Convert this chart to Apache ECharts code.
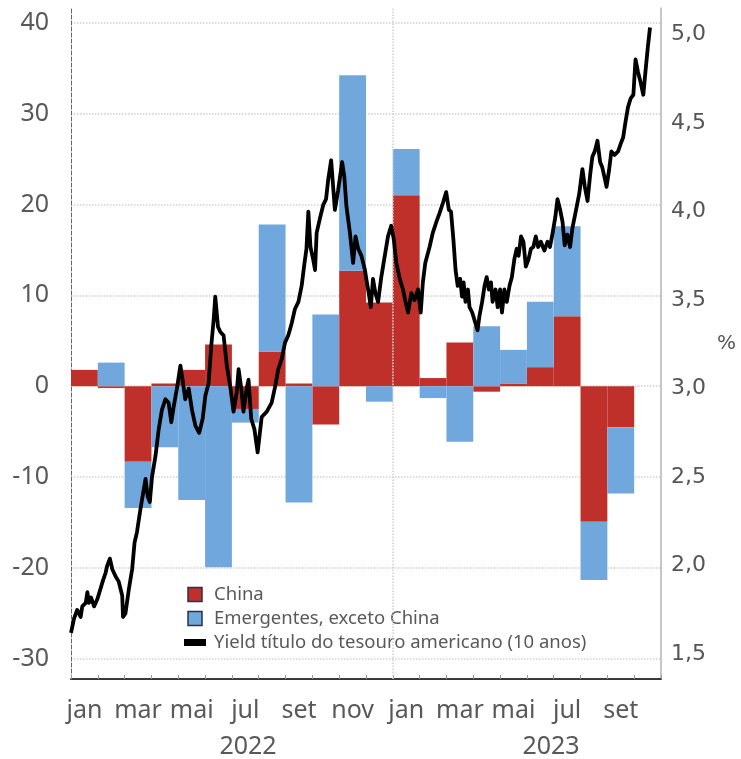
<!DOCTYPE html>
<html>
<head>
<meta charset="utf-8">
<script src="https://cdn.jsdelivr.net/npm/echarts@6/dist/echarts.min.js"></script>
<style>
  html, body { margin: 0; padding: 0; background: #fff; }
  #chart { width: 741px; height: 759px; }
</style>
</head>
<body>
<div id="chart"></div>
<script>
// meses (jan/2022 .. out/2023)
const months = ['jan 22', 'fev 22', 'mar 22', 'abr 22', 'mai 22', 'jun 22', 'jul 22', 'ago 22', 'set 22', 'out 22', 'nov 22', 'dez 22',
  'jan 23', 'fev 23', 'mar 23', 'abr 23', 'mai 23', 'jun 23', 'jul 23', 'ago 23', 'set 23', 'out 23']
// fluxos (eixo esquerdo)
const china = [1.8, -0.2, -8.3, 0.3, 1.8, 4.6, -2.5, 3.8, 0.3, -4.2, 12.7, 9.2, 21.0, 0.9, 4.8, -0.6, 0.3, 2.1, 7.7, -14.9, -4.5, null]
const emergentes = [0, 2.6, -5.1, -6.7, -12.5, -19.9, -1.5, 14.0, -12.8, 7.9, 21.5, -1.7, 5.1, -1.3, -6.1, 6.6, 3.7, 7.2, 9.9, -6.4, -7.3, null]
// yield do tesouro 10 anos (eixo direito), x em meses desde jan/2022
const yieldMonth = [0, 0.11, 0.23, 0.36, 0.42, 0.55, 0.61, 0.67, 0.75, 0.86, 0.98, 1.10, 1.20, 1.29, 1.35, 1.45, 1.54, 1.66, 1.78, 1.91,
  1.94, 2.03, 2.16, 2.28, 2.37, 2.46, 2.59, 2.69, 2.78, 2.86, 2.94, 3.02, 3.15, 3.27, 3.39, 3.52, 3.64, 3.74, 3.83, 3.95,
  4.08, 4.16, 4.26, 4.39, 4.51, 4.64, 4.78, 4.91, 5.01, 5.13, 5.23, 5.32, 5.38, 5.48, 5.57, 5.69, 5.81, 5.94, 6.06, 6.18,
  6.25, 6.35, 6.43, 6.55, 6.62, 6.72, 6.84, 6.96, 7.11, 7.30, 7.48, 7.61, 7.73, 7.86, 7.98, 8.10, 8.23, 8.35, 8.48, 8.60,
  8.69, 8.78, 8.85, 8.93, 9.03, 9.10, 9.16, 9.28, 9.41, 9.51, 9.59, 9.70, 9.84, 9.96, 10.11, 10.19, 10.27, 10.40, 10.52, 10.61,
  10.71, 10.83, 10.96, 11.01, 11.10, 11.18, 11.26, 11.35, 11.45, 11.57, 11.70, 11.82, 11.94, 12.04, 12.13, 12.26, 12.38, 12.46, 12.57, 12.69,
  12.81, 12.94, 13.04, 13.12, 13.21, 13.37, 13.49, 13.62, 13.74, 13.87, 13.99, 14.09, 14.17, 14.26, 14.34, 14.42, 14.51, 14.58, 14.64, 14.71,
  14.80, 14.86, 14.96, 15.08, 15.16, 15.23, 15.33, 15.42, 15.50, 15.58, 15.66, 15.72, 15.83, 15.91, 16.00, 16.07, 16.16, 16.25, 16.35, 16.44,
  16.53, 16.62, 16.69, 16.78, 16.87, 16.96, 17.06, 17.15, 17.24, 17.33, 17.42, 17.52, 17.65, 17.77, 17.86, 17.96, 18.06, 18.14, 18.24, 18.33,
  18.41, 18.51, 18.61, 18.70, 18.82, 18.95, 19.07, 19.16, 19.26, 19.36, 19.44, 19.53, 19.63, 19.73, 19.81, 19.90, 19.97, 20.06, 20.15, 20.27,
  20.40, 20.49, 20.59, 20.68, 20.77, 20.87, 20.97, 21.05, 21.14, 21.24, 21.34, 21.42, 21.51, 21.59]
const yieldPct = [1.62, 1.70, 1.75, 1.71, 1.77, 1.79, 1.85, 1.79, 1.82, 1.77, 1.81, 1.87, 1.92, 1.96, 2.00, 2.04, 1.98, 1.94, 1.91, 1.83,
  1.71, 1.73, 1.87, 1.98, 2.13, 2.19, 2.32, 2.41, 2.49, 2.39, 2.36, 2.50, 2.62, 2.77, 2.88, 2.94, 2.92, 2.81, 2.90, 3.00,
  3.13, 3.05, 2.94, 3.00, 2.88, 2.79, 2.75, 2.83, 2.96, 3.03, 3.24, 3.39, 3.52, 3.35, 3.32, 3.30, 3.13, 3.01, 2.87, 2.98,
  3.11, 3.00, 2.87, 3.00, 3.05, 2.83, 2.77, 2.64, 2.84, 2.87, 2.92, 3.01, 3.11, 3.17, 3.26, 3.30, 3.37, 3.45, 3.49, 3.58,
  3.69, 3.79, 4.00, 3.80, 3.73, 3.67, 3.88, 3.96, 4.04, 4.07, 4.18, 4.29, 4.01, 4.12, 4.28, 4.20, 4.03, 3.88, 3.71, 3.86,
  3.79, 3.75, 3.67, 3.62, 3.54, 3.46, 3.62, 3.54, 3.49, 3.63, 3.75, 3.86, 3.92, 3.84, 3.71, 3.62, 3.56, 3.50, 3.43, 3.54,
  3.50, 3.56, 3.43, 3.60, 3.71, 3.80, 3.88, 3.94, 3.99, 4.05, 4.11, 4.01, 4.00, 3.84, 3.67, 3.58, 3.62, 3.52, 3.60, 3.49,
  3.56, 3.46, 3.43, 3.37, 3.33, 3.41, 3.49, 3.58, 3.63, 3.56, 3.60, 3.49, 3.56, 3.46, 3.56, 3.43, 3.56, 3.49, 3.58, 3.63,
  3.73, 3.79, 3.75, 3.86, 3.83, 3.69, 3.73, 3.79, 3.80, 3.86, 3.80, 3.83, 3.78, 3.83, 3.80, 3.88, 3.97, 4.07, 4.01, 3.94,
  3.81, 3.87, 3.80, 3.91, 4.00, 4.10, 4.24, 4.14, 4.06, 4.21, 4.31, 4.34, 4.40, 4.28, 4.25, 4.19, 4.14, 4.23, 4.34, 4.32,
  4.34, 4.38, 4.42, 4.51, 4.59, 4.64, 4.66, 4.86, 4.79, 4.73, 4.66, 4.79, 4.93, 5.04]
// rótulos de ano (posição em meses)
const yearTicks = [6.6, 17.9]
const yearLabels = ['2022', '2023']

const chart = echarts.init(document.getElementById('chart'))

const labelColor = '#595959'
const fontFamily = '"Noto Sans", sans-serif'

const option = {
  animation: false,
  grid: { left: 71, right: 80, top: 8, bottom: 80, outerBoundsMode: 'none', containLabel: false },
  legend: {
    orient: 'vertical',
    left: 179,
    top: 580,
    itemWidth: 22,
    itemHeight: 14,
    itemGap: 5,
    textStyle: { fontFamily, fontSize: 18.5, color: labelColor, padding: [0, 0, 0, 3] },
    data: [
      { name: 'China', icon: 'path://M0,0H10V10H0Z', itemStyle: { borderColor: '#27324a', borderWidth: 1.5 } },
      { name: 'Emergentes, exceto China', icon: 'path://M0,0H10V10H0Z', itemStyle: { borderColor: '#27324a', borderWidth: 1.5 } },
      { name: 'Yield título do tesouro americano (10 anos)', icon: 'path://M0,0H22V7H0Z' }
    ]
  },
  xAxis: [
    {
      type: 'category',
      data: months,
      position: 'bottom',
      axisLine: { onZero: false, lineStyle: { color: '#3a3a3a', width: 2 } },
      axisTick: { show: true, inside: true, length: 4, interval: 0, lineStyle: { color: '#999' } },
      axisLabel: {
        interval: 1,
        margin: 19,
        fontFamily,
        fontSize: 25,
        color: labelColor,
        formatter: (v) => v.split(' ')[0]
      },
      splitLine: { show: false }
    },
    {
      type: 'value',
      min: 0,
      max: 22,
      position: 'bottom',
      axisLine: { show: false, onZero: false },
      axisTick: { show: false },
      splitLine: { show: false },
      axisLabel: {
        customValues: yearTicks,
        margin: 55,
        fontFamily,
        fontSize: 25,
        color: labelColor,
        formatter: (v) => yearLabels[yearTicks.indexOf(v)]
      }
    }
  ],
  yAxis: [
    {
      type: 'value',
      min: -32.2,
      max: 41.6,
      splitNumber: 7,
      position: 'left',
      axisLine: { show: true, lineStyle: { color: '#666', type: 'dashed', width: 1 } },
      axisTick: { show: false },
      axisLabel: {
        showMinLabel: false,
        showMaxLabel: false,
        margin: 22,
        fontFamily,
        fontSize: 25,
        color: labelColor
      },
      splitLine: {
        show: true,
        showMinLine: false,
        showMaxLine: false,
        lineStyle: { color: '#cfcfcf', type: 'dotted', width: 1.5 }
      }
    },
    {
      type: 'value',
      min: 1.36,
      max: 5.15,
      splitNumber: 7,
      position: 'right',
      name: '%',
      nameLocation: 'middle',
      nameRotate: 0,
      nameGap: 56,
      nameTextStyle: { fontFamily: '"DejaVu Sans"', fontSize: 20, color: '#555', align: 'left' },
      axisLine: { show: true, lineStyle: { color: '#b5b5b5', width: 1.5 } },
      axisTick: { show: false },
      axisLabel: {
        showMinLabel: false,
        showMaxLabel: false,
        margin: 10,
        fontFamily: '"DejaVu Sans"',
        fontSize: 22,
        color: '#555',
        formatter: (v) => v.toFixed(1).replace('.', ',')
      },
      splitLine: { show: false }
    }
  ],
  series: [
    {
      name: 'China',
      type: 'bar',
      stack: 'fluxos',
      xAxisIndex: 0,
      yAxisIndex: 0,
      barCategoryGap: '0%',
      itemStyle: { color: '#c0302a' },
      data: china
    },
    {
      name: 'Emergentes, exceto China',
      type: 'bar',
      stack: 'fluxos',
      xAxisIndex: 0,
      yAxisIndex: 0,
      barCategoryGap: '0%',
      itemStyle: { color: '#70a8de' },
      data: emergentes
    },
    {
      name: 'Yield título do tesouro americano (10 anos)',
      type: 'line',
      xAxisIndex: 1,
      yAxisIndex: 1,
      showSymbol: false,
      symbol: 'none',
      z: 5,
      itemStyle: { color: '#000' },
      lineStyle: { color: '#000', width: 3.8, join: 'round' },
      data: yieldMonth.map((m, i) => [m, yieldPct[i]]),
      markLine: {
        silent: true,
        symbol: 'none',
        label: { show: false },
        lineStyle: { color: '#cfcfcf', type: 'dotted', width: 1.5 },
        data: [{ xAxis: 12 }]
      }
    }
  ]
}

chart.setOption(option)
</script>
</body>
</html>
